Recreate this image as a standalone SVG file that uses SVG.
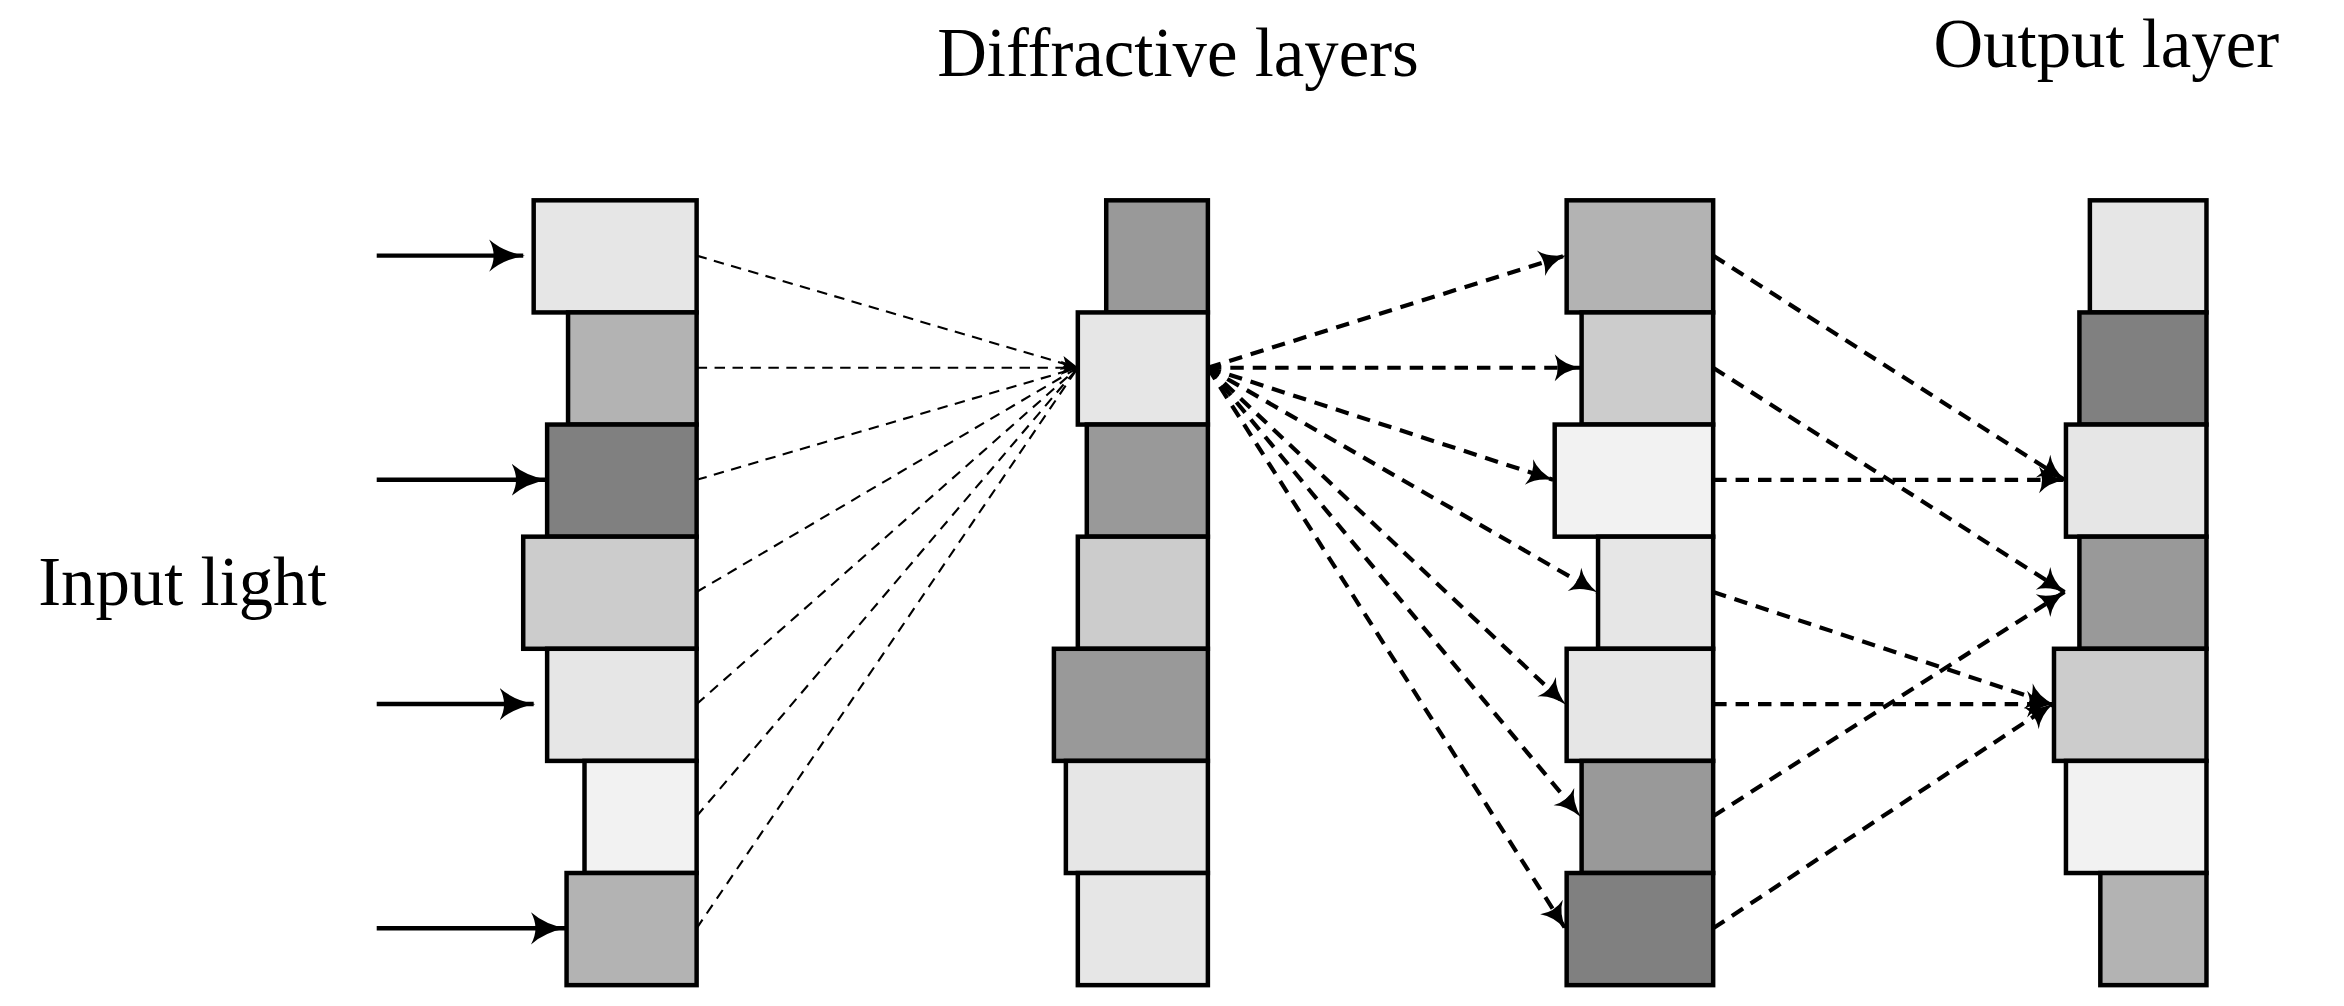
<svg xmlns="http://www.w3.org/2000/svg" width="2344" height="1006" viewBox="0 0 2344 1006">
<style>
.c{stroke:#000;stroke-width:3}
.t{font-family:"Liberation Serif",serif;font-size:46px;fill:#000}
.s{stroke:#000;stroke-width:3;fill:none}
.d1{stroke:#000;stroke-width:1.4;stroke-dasharray:7,5;fill:none}
.d2{stroke:#000;stroke-width:2.8;stroke-dasharray:9,6;fill:none}
</style>
<defs>
<marker id="a" markerUnits="userSpaceOnUse" viewBox="0 0 20 20" refX="19" refY="10" markerWidth="24" markerHeight="24" orient="auto">
<path d="M0,1 Q8,8 20,10 Q8,12 0,19 Q5,10 0,1 Z" fill="#000"/>
</marker>
<marker id="b" markerUnits="userSpaceOnUse" viewBox="0 0 20 20" refX="19" refY="10" markerWidth="20" markerHeight="20" orient="auto">
<path d="M2,1 Q8,8 20,10 Q8,12 2,19 Q6,10 2,1 Z" fill="#000"/>
</marker>
<marker id="m" markerUnits="userSpaceOnUse" viewBox="0 0 20 20" refX="19" refY="10" markerWidth="12" markerHeight="12" orient="auto">
<path d="M0,2 L20,10 L0,18 L5,10 Z" fill="#000"/>
</marker>
</defs>
<g transform="scale(1.4949)">
<g id="labels">
<text class="t" x="788" y="51" text-anchor="middle">Diffractive layers</text>
<text class="t" x="1409" y="45" text-anchor="middle">Output layer</text>
<text class="t" x="122" y="405" text-anchor="middle">Input light</text>
</g>
<g id="layer1">
<rect class="c" x="357" y="134" width="109" height="75" fill="#e6e6e6"/>
<rect class="c" x="380" y="209" width="86" height="75" fill="#b3b3b3"/>
<rect class="c" x="366" y="284" width="100" height="75" fill="#808080"/>
<rect class="c" x="350" y="359" width="116" height="75" fill="#cccccc"/>
<rect class="c" x="366" y="434" width="100" height="75" fill="#e6e6e6"/>
<rect class="c" x="391" y="509" width="75" height="75" fill="#f2f2f2"/>
<rect class="c" x="379" y="584" width="87" height="75" fill="#b3b3b3"/>
</g>
<g id="layer2">
<rect class="c" x="740" y="134" width="68" height="75" fill="#999999"/>
<rect class="c" x="721" y="209" width="87" height="75" fill="#e6e6e6"/>
<rect class="c" x="727" y="284" width="81" height="75" fill="#999999"/>
<rect class="c" x="721" y="359" width="87" height="75" fill="#cccccc"/>
<rect class="c" x="705" y="434" width="103" height="75" fill="#999999"/>
<rect class="c" x="713" y="509" width="95" height="75" fill="#e6e6e6"/>
<rect class="c" x="721" y="584" width="87" height="75" fill="#e6e6e6"/>
</g>
<g id="layer3">
<rect class="c" x="1048" y="134" width="98" height="75" fill="#b3b3b3"/>
<rect class="c" x="1058" y="209" width="88" height="75" fill="#cccccc"/>
<rect class="c" x="1040" y="284" width="106" height="75" fill="#f2f2f2"/>
<rect class="c" x="1069" y="359" width="77" height="75" fill="#e6e6e6"/>
<rect class="c" x="1048" y="434" width="98" height="75" fill="#e6e6e6"/>
<rect class="c" x="1058" y="509" width="88" height="75" fill="#999999"/>
<rect class="c" x="1048" y="584" width="98" height="75" fill="#808080"/>
</g>
<g id="output">
<rect class="c" x="1398" y="134" width="78" height="75" fill="#e6e6e6"/>
<rect class="c" x="1391" y="209" width="85" height="75" fill="#808080"/>
<rect class="c" x="1382" y="284" width="94" height="75" fill="#e6e6e6"/>
<rect class="c" x="1391" y="359" width="85" height="75" fill="#999999"/>
<rect class="c" x="1374" y="434" width="102" height="75" fill="#cccccc"/>
<rect class="c" x="1382" y="509" width="94" height="75" fill="#f2f2f2"/>
<rect class="c" x="1405" y="584" width="71" height="75" fill="#b3b3b3"/>
</g>
<g id="connectors">
<line class="s" x1="252" y1="171" x2="350" y2="171" marker-end="url(#a)"/>
<line class="s" x1="252" y1="321" x2="365" y2="321" marker-end="url(#a)"/>
<line class="s" x1="252" y1="471" x2="357" y2="471" marker-end="url(#a)"/>
<line class="s" x1="252" y1="621" x2="378" y2="621" marker-end="url(#a)"/>
<line class="d1" x1="466" y1="171" x2="721" y2="246" marker-end="url(#m)"/>
<line class="d1" x1="466" y1="246" x2="721" y2="246" marker-end="url(#m)"/>
<line class="d1" x1="466" y1="321" x2="721" y2="246"/>
<line class="d1" x1="466" y1="396" x2="721" y2="246"/>
<line class="d1" x1="466" y1="471" x2="721" y2="246"/>
<line class="d1" x1="466" y1="546" x2="721" y2="246"/>
<line class="d1" x1="466" y1="621" x2="721" y2="246"/>
<line class="d2" x1="808" y1="246" x2="1047" y2="171" marker-end="url(#b)"/>
<line class="d2" x1="808" y1="246" x2="1057" y2="246" marker-end="url(#b)"/>
<line class="d2" x1="808" y1="246" x2="1039" y2="321" marker-end="url(#b)"/>
<line class="d2" x1="808" y1="246" x2="1068" y2="396" marker-end="url(#b)"/>
<line class="d2" x1="808" y1="246" x2="1047" y2="471" marker-end="url(#b)"/>
<line class="d2" x1="808" y1="246" x2="1057" y2="546" marker-end="url(#b)"/>
<line class="d2" x1="808" y1="246" x2="1047" y2="621" marker-end="url(#b)"/>
<line class="d2" x1="1146" y1="171" x2="1381" y2="321" marker-end="url(#b)"/>
<line class="d2" x1="1146" y1="246" x2="1381" y2="396" marker-end="url(#b)"/>
<line class="d2" x1="1146" y1="321" x2="1381" y2="321" marker-end="url(#b)"/>
<line class="d2" x1="1146" y1="396" x2="1373" y2="471" marker-end="url(#b)"/>
<line class="d2" x1="1146" y1="471" x2="1373" y2="471" marker-end="url(#b)"/>
<line class="d2" x1="1146" y1="546" x2="1381" y2="396" marker-end="url(#b)"/>
<line class="d2" x1="1146" y1="621" x2="1373" y2="471" marker-end="url(#b)"/>
</g>
</g>
</svg>
